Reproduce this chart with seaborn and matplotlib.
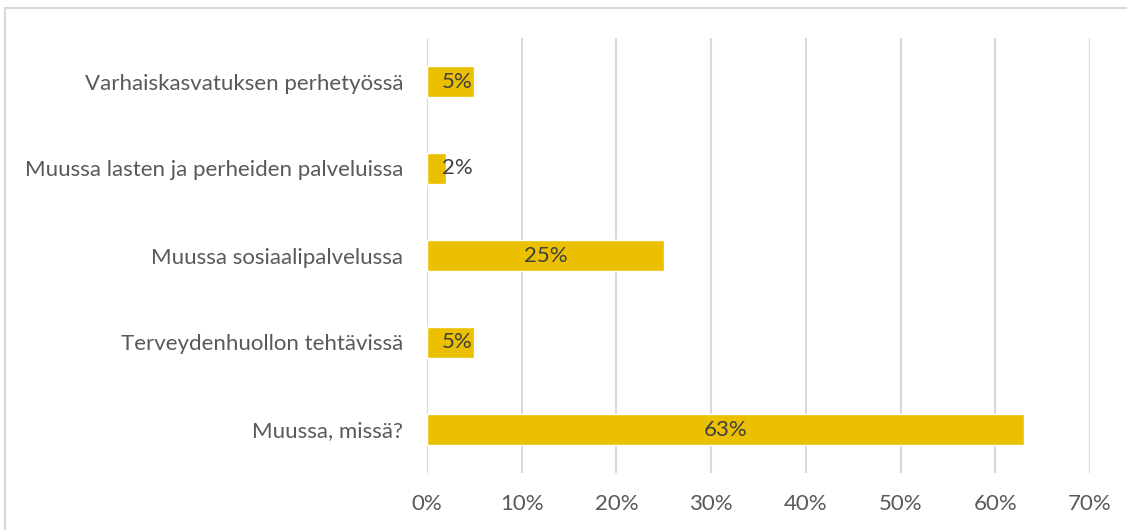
import pandas as pd
import matplotlib.pyplot as plt
import matplotlib.patches as mpatches
import seaborn as sns

categories = ['Varhaiskasvatuksen perhetyössä',
              'Muussa lasten ja perheiden palveluissa',
              'Muussa sosiaalipalvelussa',
              'Terveydenhuollon tehtävissä',
              'Muussa, missä?']
values = [5, 2, 25, 5, 63]

df = pd.DataFrame({'cat': categories, 'val': values})

sns.set_style('white')
plt.rcParams['font.family'] = ['Lato', 'DejaVu Sans']

fig = plt.figure(figsize=(11.27, 5.3), dpi=100)
# chart border, cropped at right and bottom like the source
fig.patches.append(mpatches.Rectangle((5 / 1127, -0.1), 1.2, 1 - 8 / 530 + 0.1,
                                      transform=fig.transFigure, fill=False,
                                      edgecolor='#D9D9D9', linewidth=1.5))
ax = fig.add_axes([427 / 1127, 1 - 473 / 530, 663 / 1127, 435 / 530])

sns.barplot(data=df, x='val', y='cat', orient='h', color='#EBC000',
            saturation=1, width=0.36, ax=ax)

for i, v in enumerate(values):
    ax.text(max(v / 2, 3.2), i, f'{v}%', ha='center', va='center',
            fontsize=16, color='#404040')

ax.set_xlim(0, 70)
ax.set_ylim(4.5, -0.5)
ax.set_xticks(range(0, 71, 10))
ax.set_xticklabels([f'{t}%' for t in range(0, 71, 10)])
ax.xaxis.grid(True, color='#D9D9D9', linewidth=1.5)
ax.set_axisbelow(True)
for s in ax.spines.values():
    s.set_visible(False)
ax.tick_params(axis='both', length=0, labelsize=16, labelcolor='#595959')
ax.tick_params(axis='x', pad=15)
ax.tick_params(axis='y', pad=17)
ax.set_xlabel('')
ax.set_ylabel('')

fig.savefig('out.png', dpi=100)
